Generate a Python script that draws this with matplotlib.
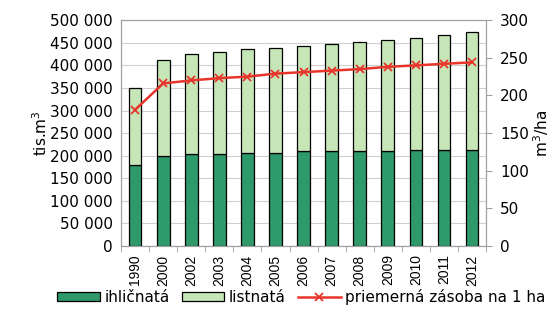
import numpy as np
import matplotlib
matplotlib.use("Agg")
import matplotlib.pyplot as plt
from matplotlib.ticker import FuncFormatter

plt.rcParams['font.family'] = ['DejaVu Sans']

years = ['1990', '2000', '2002', '2003', '2004', '2005', '2006',
         '2007', '2008', '2009', '2010', '2011', '2012']
# tis. m3
ihlicnata = [179000, 199000, 203000, 203000, 207000, 207000, 211000,
             211000, 211000, 211000, 213000, 213000, 213000]
spolu = [350000, 412000, 424000, 430000, 435500, 438000, 443500,
         447500, 452500, 455500, 461500, 467500, 473500]
listnata = [s - i for s, i in zip(spolu, ihlicnata)]
# m3/ha
zasoba = [181, 216, 220, 223, 225, 229, 231, 233, 235, 238, 240, 242, 244]

dark = '#2e9a6c'
light = '#c6e6b8'
red = '#e8352b'
frame = '#a0a0a0'

fig = plt.figure(figsize=(5.58, 3.2), dpi=100)
ax = fig.add_axes([0.217, 0.231, 0.654, 0.706])
x = np.arange(len(years))

b1 = ax.bar(x, ihlicnata, width=0.45, color=dark, edgecolor='black', lw=0.9, zorder=3)
b2 = ax.bar(x, listnata, width=0.45, bottom=ihlicnata, color=light, edgecolor='black', lw=0.9, zorder=3)

ax.set_ylim(0, 500000)
ax.set_yticks(np.arange(0, 500001, 50000))
ax.yaxis.set_major_formatter(FuncFormatter(lambda v, p: f'{int(v):,}'.replace(',', ' ')))
ax.set_xlim(-0.5, len(years) - 0.5)
ax.set_xticks(x)
ax.set_xticklabels(years, rotation=90, fontsize=10, family='Liberation Sans')
ax.set_xticks(np.arange(-0.5, len(years)), minor=True)
ax.tick_params(axis='x', which='major', length=0, pad=6)
ax.tick_params(axis='x', which='minor', length=4, color=frame)
ax.tick_params(axis='y', labelsize=11, length=0, pad=6)
ax.grid(axis='y', color='#cfcfcf', lw=0.8, zorder=0)
for s in ax.spines.values():
    s.set_color(frame)
ax.set_ylabel('tis.m$^3$', fontsize=11, labelpad=0)

ax2 = ax.twinx()
l1, = ax2.plot(x, zasoba, color=red, lw=1.8, marker='x', ms=6, mew=1.3, zorder=5)
ax2.set_ylim(0, 300)
ax2.set_yticks(np.arange(0, 301, 50))
ax2.tick_params(axis='y', labelsize=11, length=4, color=frame, pad=6)
for s in ax2.spines.values():
    s.set_color(frame)
ax2.set_ylabel('m$^3$/ha', fontsize=11, labelpad=2)

fig.legend([b1, b2, l1], ['ihličnatá', 'listnatá', 'priemerná zásoba na 1 ha'],
           loc='center', bbox_to_anchor=(0.54, 0.072), ncol=3, frameon=False,
           fontsize=11, handlelength=2.8, handleheight=0.6, handletextpad=0.3,
           columnspacing=0.8)

fig.savefig('out.png', dpi=100)
